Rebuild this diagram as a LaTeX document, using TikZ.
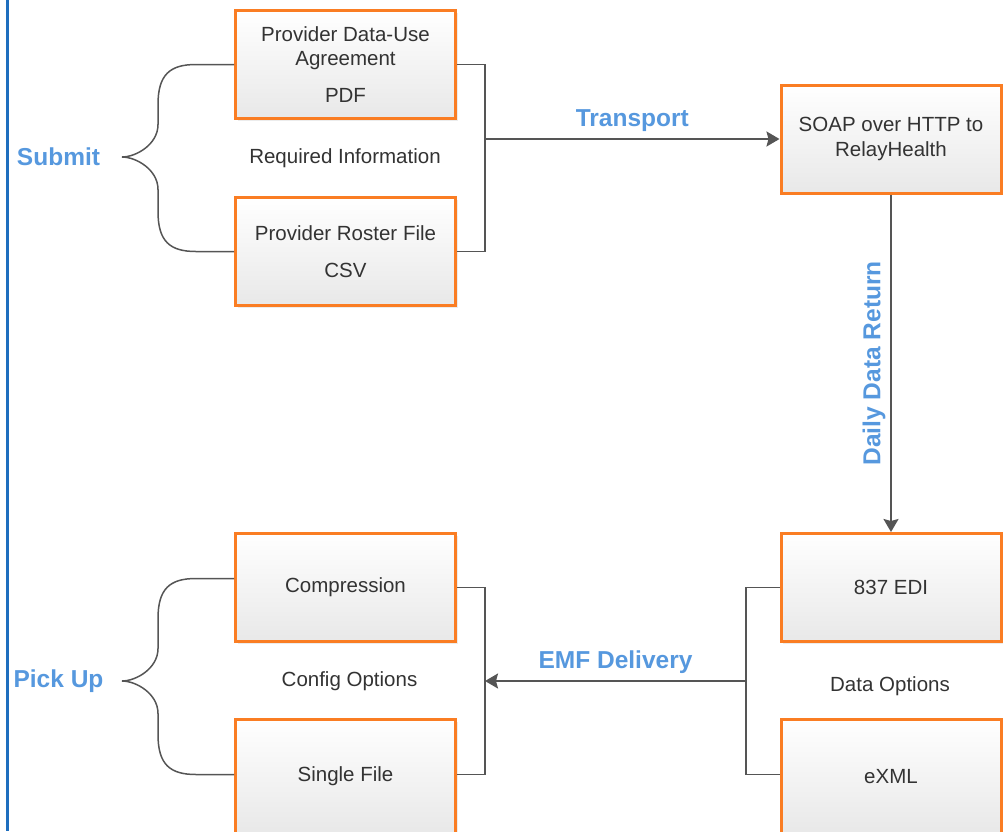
\documentclass[tikz,border=0pt]{standalone}
\usepackage{fontspec}
\setmainfont{Liberation Sans}
\usetikzlibrary{arrows.meta,shadows,calc}

\definecolor{boxorange}{RGB}{250,125,35}
\definecolor{labelblue}{RGB}{86,152,222}
\definecolor{frameblue}{RGB}{30,110,190}
\definecolor{linegray}{RGB}{85,85,85}
\definecolor{textgray}{RGB}{51,51,51}

\tikzset{
  infobox/.style={draw=boxorange, line width=3pt, top color=white, bottom color=black!9,
    minimum width=220pt, minimum height=108pt, inner sep=0pt, align=center,
    text=textgray, font=\fontsize{20.5}{24.5}\selectfont,
    drop shadow={shadow xshift=2pt, shadow yshift=-2pt, opacity=0.15}},
  cutbox/.style={infobox, minimum height=114pt},
  infotext/.style={text=textgray, font=\fontsize{20.5}{24.5}\selectfont},
  steplabel/.style={text=labelblue, font=\fontsize{24.5}{29}\selectfont\bfseries},
  link/.style={draw=linegray, line width=1.5pt},
  flow/.style={link, line width=2pt, -{Stealth[length=13pt,width=15pt,inset=2pt]}},
}

\begin{document}
\begin{tikzpicture}[x=1pt,y=-1pt]
  \useasboundingbox (0,0) rectangle (1005,831);
  \draw[frameblue, line width=3pt] (7.5,0) -- (7.5,831);

  \node[infobox] (agree) at (345.5,64.5) {Provider Data-Use\\Agreement\\[12pt]PDF};
  \node[infobox] (roster) at (345.5,251.5) {Provider Roster File\\[12pt]CSV};
  \node[infobox] (soap) at (891,139) {SOAP over HTTP to\\RelayHealth};
  \node[infobox] (edi) at (891,587.5) {837 EDI};
  \node[cutbox] (exml) at (891,776.5) {eXML};
  \node[infobox] (compr) at (345.5,587.5) {Compression};
  \node[cutbox] (single) at (345.5,776.5) {Single File};

  \node[infotext] (reqinfo) at (345,158) {Required Information};
  \node[infotext] (cfgopt) at (349.5,681.5) {Config Options};
  \node[infotext] (dataopt) at (890,686.5) {Data Options};
  \node[steplabel] (submit) at (58.5,157) {Submit};
  \node[steplabel] (pickup) at (58.5,681.5) {Pick Up};

  \coordinate (subtip) at (122,157);
  \coordinate (picktip) at (122,681);
  \coordinate (reqjoin) at (485,139);
  \coordinate (datajoin) at (746,681);
  \coordinate (cfgjoin) at (485,681);

  % braces
  \draw[link] (agree.west) -- ++(-38,0) .. controls +(-26,0) and +(0,-30) .. ++(-38,40)
    -- ($(subtip)+(36,-32.5)$) .. controls +(0,20) and +(14,0) .. (subtip)
    .. controls +(14,0) and +(0,-20) .. ++(36,32.5)
    -- ($(roster.west)+(-76,-40)$) .. controls +(0,30) and +(-26,0) .. ++(38,40) -- (roster.west);
  \draw[link] ([yshift=9pt]compr.west) -- ++(-38,0) .. controls +(-26,0) and +(0,-30) .. ++(-38,40)
    -- ($(picktip)+(36,-32.5)$) .. controls +(0,20) and +(14,0) .. (picktip)
    .. controls +(14,0) and +(0,-20) .. ++(36,32.5)
    -- ($([yshift=2pt]single.west)+(-76,-40)$) .. controls +(0,30) and +(-26,0) .. ++(38,40) -- ([yshift=2pt]single.west);

  \draw[link] (agree.east) -| (reqjoin) |- (roster.east);
  \draw[flow] (reqjoin) to node[steplabel, above=6pt, inner sep=0pt] (transport) {Transport} (soap.west);
  \draw[flow] (soap.south) to node[steplabel, midway, xshift=-17pt, rotate=90] (daily) {Daily Data Return} (edi.north);
  \draw[link] (edi.west) -| (datajoin) |- ([yshift=2pt]exml.west);
  \draw[flow] (datajoin) to node[steplabel, above=6.5pt, inner sep=0pt] (emf) {EMF Delivery} (cfgjoin);
  \draw[link] (compr.east) -| (cfgjoin) |- ([yshift=2pt]single.east);
\end{tikzpicture}
\end{document}
